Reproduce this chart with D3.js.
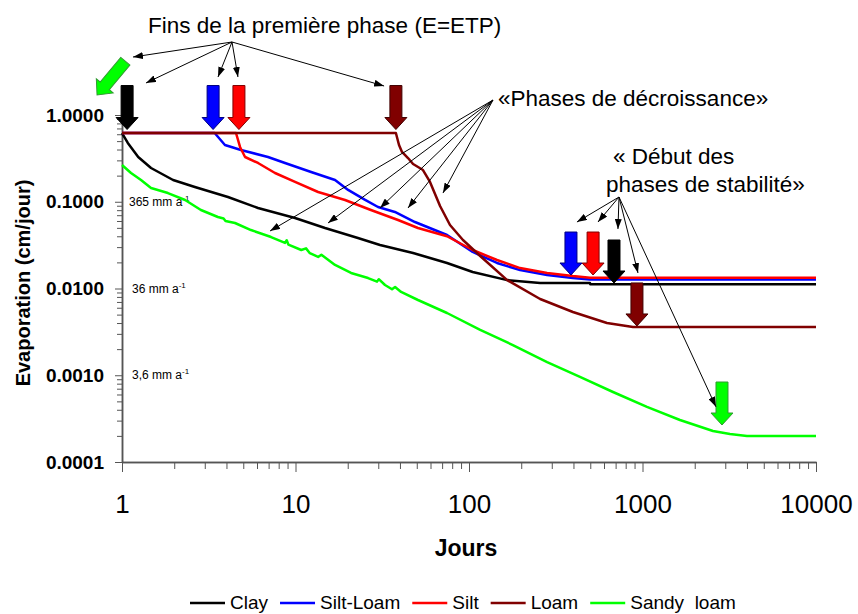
<!DOCTYPE html>
<html lang="fr">
  <head>
    <meta charset="utf-8">
    <title>Evaporation</title>
    <style>
      body { margin: 0; background: #fff; }
      svg { display: block; }
      text { font-family: Arial, "Liberation Sans", sans-serif; }
    </style>
  </head>
  <body>
    <svg></svg>
    <script src="https://d3js.org/d3.v7.min.js"></script>
    <script type="text/javascript">
      // series: [days], [evaporation cm/jour]
      var clayDays = [1, 1.08, 1.24, 1.47, 1.97, 2.63, 4.08, 6.08, 9.94, 14.8, 22.9, 30.7, 47.6, 74.7, 105, 166, 257, 498, 500, 10000];
      var clayEvap = [0.62, 0.476, 0.328, 0.245, 0.178, 0.148, 0.1135, 0.0847, 0.065, 0.0498, 0.0382, 0.0317, 0.0257, 0.0197, 0.0155, 0.0125, 0.0116, 0.0116, 0.0112, 0.0112];

      var siltLoamDays = [1, 3.42, 3.92, 4.85, 6.94, 8.7, 12.3, 16.9, 20.1, 25.2, 29.9, 37.4, 48.8, 74.7, 105, 145, 197, 282, 397, 498, 10000];
      var siltLoamEvap = [0.62, 0.62, 0.451, 0.395, 0.328, 0.28, 0.22, 0.178, 0.137, 0.105, 0.087, 0.0762, 0.0584, 0.0414, 0.0264, 0.0197, 0.0163, 0.0143, 0.0132, 0.0127, 0.0127];

      var siltDays = [1, 4.54, 4.79, 5.12, 6.08, 7.62, 9.94, 13.5, 19.3, 27.2, 39.0, 50.8, 74.7, 105, 145, 197, 282, 397, 498, 10000];
      var siltEvap = [0.62, 0.62, 0.428, 0.328, 0.28, 0.2145, 0.169, 0.1295, 0.1047, 0.0803, 0.0616, 0.0498, 0.04, 0.0278, 0.0213, 0.0172, 0.0151, 0.0139, 0.0133, 0.0133];

      var loamDays = [1, 37.9, 39.5, 41.1, 44.5, 47.6, 54.3, 59.6, 68.1, 77.7, 92.3, 116, 166, 257, 397, 624, 881, 10000];
      var loamEvap = [0.62, 0.62, 0.451, 0.375, 0.319, 0.272, 0.232, 0.169, 0.0893, 0.054, 0.0362, 0.0237, 0.0125, 0.00757, 0.00536, 0.004, 0.0036, 0.0036];

      var sandyDays = [1, 1.127, 1.287, 1.47, 1.84, 2.31, 2.85, 3.57, 3.85, 3.95, 4.48, 5.54, 7.23, 8.7, 8.9, 9.1, 10.8, 11.5, 12.1, 13.5, 14.1, 16.9, 20.9, 26.2, 29.5, 30.2, 32.8, 36, 37.5, 40.6, 50.8, 74.7, 116, 179, 282, 436, 676, 1061, 1644, 2548, 3192, 4000, 10000];
      var sandyEvap = [0.265, 0.2145, 0.178, 0.144, 0.126, 0.1047, 0.0803, 0.0667, 0.064, 0.06, 0.0569, 0.0472, 0.0392, 0.0335, 0.036, 0.032, 0.0278, 0.029, 0.0255, 0.0231, 0.0245, 0.0187, 0.0151, 0.0132, 0.012, 0.0128, 0.01097, 0.0098, 0.0104, 0.00912, 0.00737, 0.00522, 0.00333, 0.00223, 0.00142, 0.000955, 0.000641, 0.000431, 0.000305, 0.000228, 0.00021, 0.0002, 0.0002];

      var seriesNames = ["Clay", "Silt-Loam", "Silt", "Loam", "Sandy  loam"];
      var seriesColors = ["#000000", "#0000ff", "#ff0000", "#800000", "#00ff00"];
      var seriesDays = [clayDays, siltLoamDays, siltDays, loamDays, sandyDays];
      var seriesEvap = [clayEvap, siltLoamEvap, siltEvap, loamEvap, sandyEvap];

      // ticks
      var xMajor = [1, 10, 100, 1000, 10000];
      var xLabels = ["1", "10", "100", "1000", "10000"];
      var yMajor = [0.0001, 0.001, 0.01, 0.1, 1];
      var yLabels = ["0.0001", "0.0010", "0.0100", "0.1000", "1.0000"];
      var rateLabels = ["365 mm a", "36 mm a", "3,6 mm a"];
      var rateValues = [0.1, 0.01, 0.001];

      // phase markers (block arrows): day and value of the arrow tip
      var firstPhaseDays = [1.07, 3.35, 4.72, 37.9];
      var firstPhaseTip = [0.68, 0.68, 0.68, 0.68];
      var firstPhaseColors = [0, 1, 2, 3];
      var stableDays = [387, 519, 685, 929, 2872];
      var stableTip = [0.0143, 0.0143, 0.01157, 0.0037, 0.000267];
      var stableColors = [1, 2, 0, 3, 4];

      // where the thin callout arrows point: [day, value]
      var finsTargets = [[1.157, 4.66], [1.375, 2.34], [3.575, 2.74], [4.66, 2.74], [32.4, 2.16]];
      var decrTargets = [[7.13, 0.046], [15.4, 0.0569], [30.7, 0.0847], [44.5, 0.0847], [70.8, 0.126]];
      var debutTargets = [[419, 0.0584], [554, 0.0584], [722, 0.0485], [942, 0.0151], [2650, 0.000433]];

      var width = 858, height = 614;
      var svg = d3.select("svg").attr("width", width).attr("height", height);

      var x = d3.scaleLog().domain([1, 10000]).range([122, 816]);
      var y = d3.scaleLog().domain([0.0001, 1]).range([462, 115]);

      var xMinor = [], yMinor = [];
      for (var e = 0; e < 4; e++) {
        for (var k = 2; k < 10; k++) {
          xMinor.push(k * Math.pow(10, e));
          yMinor.push(k * Math.pow(10, e - 4));
        }
      }

      var axisColor = "#555";

      // x axis
      svg.append("g").attr("transform", "translate(0,462)").attr("color", axisColor)
        .call(d3.axisBottom(x).tickValues(xMinor).tickFormat("").tickSize(7).tickSizeOuter(0));
      var gx = svg.append("g").attr("transform", "translate(0,462)").attr("color", axisColor)
        .call(d3.axisBottom(x).tickValues(xMajor).tickFormat(function(d, i) { return xLabels[i]; })
          .tickSize(10).tickSizeOuter(0).tickPadding(23));
      gx.selectAll("text").attr("fill", "#000").style("font-size", "26px").style("font-family", "Arial, 'Liberation Sans', sans-serif");

      // y axis
      svg.append("g").attr("transform", "translate(122,0)").attr("color", axisColor)
        .call(d3.axisLeft(y).tickValues(yMinor).tickFormat("").tickSize(5).tickSizeOuter(0));
      var gy = svg.append("g").attr("transform", "translate(122,0)").attr("color", axisColor)
        .call(d3.axisLeft(y).tickValues(yMajor).tickFormat(function(d, i) { return yLabels[i]; })
          .tickSize(7).tickSizeOuter(0).tickPadding(11));
      gy.selectAll("text").attr("fill", "#000").style("font-size", "19px").style("font-weight", "bold")
        .style("font-family", "Arial, 'Liberation Sans', sans-serif");
      svg.selectAll(".domain").attr("stroke-width", 1.5);

      // axis titles
      svg.append("text").attr("x", 466).attr("y", 556).attr("text-anchor", "middle")
        .style("font-size", "23px").style("font-weight", "bold").text("Jours");
      svg.append("text").attr("transform", "translate(30,283) rotate(-90)").attr("text-anchor", "middle")
        .style("font-size", "20px").style("font-weight", "bold").text("Evaporation (cm/jour)");

      // rate labels inside the plot
      rateLabels.forEach(function(t, i) {
        var tx = svg.append("text").attr("x", i == 0 ? 129 : 132).attr("y", y(rateValues[i]) + 4)
          .style("font-size", "12px").text(t);
        tx.append("tspan").attr("dy", -5).style("font-size", "8px").text("-1");
      });

      // curves
      var line = d3.line().x(function(d) { return x(d[0]); }).y(function(d) { return y(d[1]); });
      seriesDays.forEach(function(days, i) {
        var pts = days.map(function(d, j) { return [d, seriesEvap[i][j]]; });
        svg.append("path").datum(pts).attr("d", line)
          .attr("fill", "none").attr("stroke", seriesColors[i]).attr("stroke-width", 2.5)
          .attr("stroke-linejoin", "round");
      });

      // block arrows
      var outline = ["#000000", "#000080", "#800000", "#400000", "#339933"];
      function blockArrow(tx, ty, len, ci, angle) {
        var p = "M-6," + (-len) + "L6," + (-len) + "L6,-12L11,-12L0,0L-11,-12L-6,-12Z";
        svg.append("path").attr("d", p)
          .attr("transform", "translate(" + tx + "," + ty + ") rotate(" + (angle || 0) + ")")
          .attr("fill", seriesColors[ci]).attr("stroke", outline[ci]).attr("stroke-width", 1);
      }
      firstPhaseDays.forEach(function(d, i) {
        blockArrow(x(d), y(firstPhaseTip[i]), 44, firstPhaseColors[i]);
      });
      stableDays.forEach(function(d, i) {
        blockArrow(x(d), y(stableTip[i]), 43, stableColors[i]);
      });
      // sandy loam first phase ends before day 1: tilted arrow off the axis
      blockArrow(x(0.718), y(1.70), 44, 4, 40);

      // callouts
      svg.append("defs").append("marker").attr("id", "ah")
        .attr("viewBox", "0 0 10 7").attr("refX", 10).attr("refY", 3.5)
        .attr("markerWidth", 10).attr("markerHeight", 7)
        .attr("markerUnits", "userSpaceOnUse").attr("orient", "auto")
        .append("path").attr("d", "M0,0L10,3.5L0,7Z").attr("fill", "#000");

      function callout(ax, ay, targets) {
        targets.forEach(function(t) {
          svg.append("line").attr("x1", ax).attr("y1", ay)
            .attr("x2", x(t[0])).attr("y2", y(t[1]))
            .attr("stroke", "#000").attr("stroke-width", 1).attr("marker-end", "url(#ah)");
        });
      }
      callout(232, 42, finsTargets);
      callout(493, 100, decrTargets);
      callout(619, 197, debutTargets);

      svg.append("text").attr("x", 148).attr("y", 33).style("font-size", "22.5px")
        .text("Fins de la première phase (E=ETP)");
      svg.append("text").attr("x", 498).attr("y", 106).style("font-size", "22.5px")
        .text("«Phases de décroissance»");
      svg.append("text").attr("x", 613).attr("y", 164).style("font-size", "22.5px")
        .text("« Début des");
      svg.append("text").attr("x", 606).attr("y", 192).style("font-size", "22.5px")
        .text("phases de stabilité»");

      // legend
      var lx = 190;
      seriesNames.forEach(function(n, i) {
        svg.append("line").attr("x1", lx).attr("x2", lx + 35).attr("y1", 603).attr("y2", 603)
          .attr("stroke", seriesColors[i]).attr("stroke-width", 2.5);
        var t = svg.append("text").attr("x", lx + 40).attr("y", 609)
          .style("font-size", "19px").style("white-space", "pre").text(n);
        lx += 40 + t.node().getComputedTextLength() + 12;
      });
    </script>
  </body>
</html>
